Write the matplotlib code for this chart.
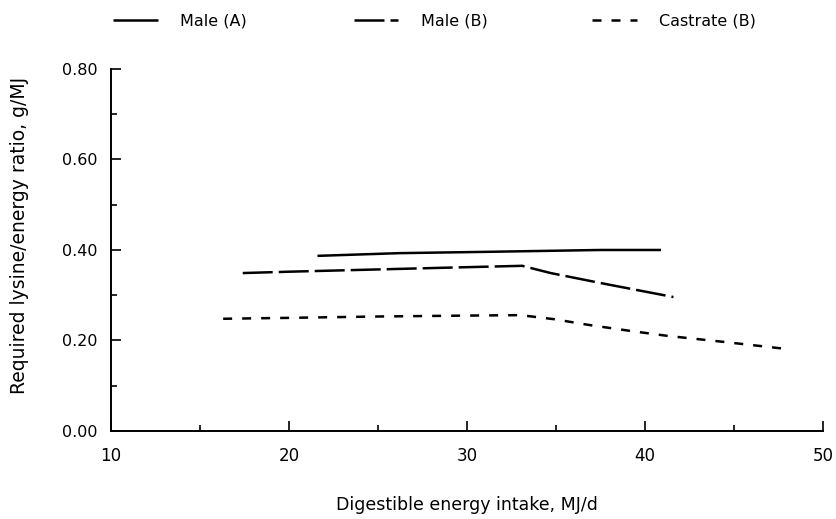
import matplotlib
matplotlib.use("Agg")
import matplotlib.pyplot as plt
from matplotlib.ticker import MultipleLocator, FormatStrFormatter

plt.rcParams['font.family'] = ['DejaVu Sans']

# lysine requirement curves (g lysine per MJ DE) vs DE intake (MJ/d)
male_a_x = [21.6, 26.2, 31.3, 37.5, 40.9]
male_a_y = [0.387, 0.393, 0.396, 0.400, 0.400]

male_b_x = [17.4, 20.0, 25.0, 30.0, 33.1, 34.7, 37.5, 41.6]
male_b_y = [0.349, 0.352, 0.357, 0.362, 0.365, 0.349, 0.327, 0.296]

castrate_x = [16.3, 20.0, 25.0, 30.0, 33.0, 34.9, 36.9, 39.2, 41.3, 44.4, 48.0]
castrate_y = [0.248, 0.250, 0.253, 0.255, 0.256, 0.247, 0.234, 0.221, 0.210, 0.197, 0.181]

labels = ["Male (A)", "Male (B)", "Castrate (B)"]
styles = ['-', (0, (12, 2.4)), (0, (3.6, 4.0))]
legend_x = [0.135, 0.423, 0.708]

fig = plt.figure(figsize=(8.36, 5.19), dpi=100)
ax = fig.add_axes([0.1328, 0.1696, 0.8516, 0.6975])

series = [(male_a_x, male_a_y), (male_b_x, male_b_y), (castrate_x, castrate_y)]
lines = []
for (xs, ys), ls, lab in zip(series, styles, labels):
    ln, = ax.plot(xs, ys, color='black', lw=1.8, linestyle=ls, label=lab,
                  solid_capstyle='butt', dash_capstyle='butt')
    lines.append(ln)

ax.set_xlim(10, 50)
ax.set_ylim(0, 0.80)
ax.xaxis.set_major_locator(MultipleLocator(10))
ax.xaxis.set_minor_locator(MultipleLocator(5))
ax.yaxis.set_major_locator(MultipleLocator(0.2))
ax.yaxis.set_minor_locator(MultipleLocator(0.1))
ax.yaxis.set_major_formatter(FormatStrFormatter('%.2f'))

for side in ['top', 'right']:
    ax.spines[side].set_visible(False)
for side in ['left', 'bottom']:
    ax.spines[side].set_linewidth(1.4)

ax.tick_params(axis='both', which='both', direction='in', width=1.2)
ax.tick_params(axis='y', which='major', length=7, pad=10, labelsize=11.5)
ax.tick_params(axis='y', which='minor', length=4)
ax.tick_params(axis='x', which='major', length=7, pad=11.5, labelsize=12)
ax.tick_params(axis='x', which='minor', length=4.5)

ax.set_xlabel('Digestible energy intake, MJ/d', fontsize=12.5)
ax.xaxis.set_label_coords(0.5, -0.204)
ax.xaxis.label.set_va('center')
ax.set_ylabel('Required lysine/energy ratio, g/MJ', fontsize=13.5)
ax.yaxis.set_label_coords(-0.129, 0.54)
ax.yaxis.label.set_va('center')

# one legend per series, spread along the top
for ln, lx in zip(lines, legend_x):
    fig.legend(handles=[ln], loc='center left', bbox_to_anchor=(lx, 0.96),
               frameon=False, fontsize=11.5, handlelength=2.8,
               handletextpad=1.4, borderpad=0, borderaxespad=0)

fig.savefig('out.png', dpi=100)
